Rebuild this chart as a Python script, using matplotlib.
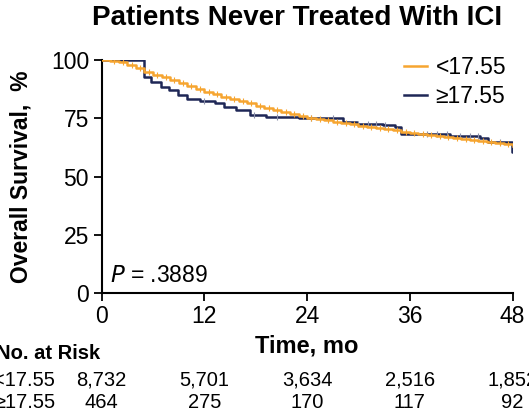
import numpy as np
import matplotlib.pyplot as plt
from matplotlib.transforms import blended_transform_factory

plt.rcParams['font.family'] = ['Liberation Sans', 'DejaVu Sans']

# <17.55 group (steps read roughly monthly)
low_t = [0, 1, 2, 3, 4, 5, 6, 7, 8, 9, 10, 11, 12, 13, 14, 15, 16, 17, 18, 19,
         20, 21, 22, 23, 24, 25, 26, 27, 28, 29, 30, 31, 32, 33, 34, 35, 36,
         37, 38, 39, 40, 41, 42, 43, 44, 45, 46, 47, 48]
low_s = [100, 99.8, 99.2, 98.0, 96.5, 95.0, 93.8, 92.6, 91.3, 90.0, 88.8, 87.6,
         86.5, 85.4, 84.3, 83.3, 82.3, 81.4, 80.4, 79.5, 78.6, 77.7, 76.9, 76.1,
         75.3, 74.7, 74.1, 73.5, 73.0, 72.4, 71.9, 71.3, 70.8, 70.3, 69.8, 69.3,
         68.8, 68.4, 68.0, 67.5, 67.1, 66.7, 66.2, 65.8, 65.3, 64.8, 64.3, 63.8,
         63.3]

# >=17.55 group
high_t = [0, 4.9, 5.8, 6.9, 7.9, 8.9, 10.0, 11.5, 13.3, 14.3, 15.7, 17.3, 19.2,
          23.1, 28.2, 29.8, 32.9, 34.3, 35.0, 40.7, 44.2, 45.1, 47.9, 48.0]
high_s = [100, 92.8, 90.7, 88.5, 87.1, 85.0, 83.3, 82.5, 81.4, 80.0, 78.5, 76.4,
          75.7, 75.0, 73.5, 72.8, 72.3, 71.1, 68.5, 67.3, 66.4, 64.9, 60.6, 60.6]
high_cens = [12.0, 17.8, 20.5, 24.5, 27.0, 30.0, 31.1, 32.1, 33.1, 38.0, 39.2,
             40.3, 41.8, 43.0, 44.0, 46.5]

xticks = [0, 12, 24, 36, 48]
risk_low = ['8,732', '5,701', '3,634', '2,516', '1,852']
risk_high = ['464', '275', '170', '117', '92']

orange = '#F6A530'
navy = '#1E2756'

fig = plt.figure(figsize=(5.29, 4.15), dpi=100)
ax = fig.add_axes([0.192, 0.294, 0.777, 0.561])

ax.step(high_t, high_s, where='post', color=navy, lw=1.8, label='\u226517.55', zorder=2)
ax.step(low_t, low_s, where='post', color=orange, lw=1.8, label='<17.55', zorder=3)

# censor marks
low_c = [t + 0.5 for t in low_t[1:-1]]
low_cs = [low_s[int(t)] for t in low_c]
ax.plot(low_c, low_cs, ls='none', marker='|', ms=4, mew=0.8, color=orange, zorder=3)
high_cs = [high_s[np.searchsorted(high_t, t, side='right') - 1] for t in high_cens]
ax.plot(high_cens, high_cs, ls='none', marker='|', ms=5, mew=0.8, color='#8a8fa8', zorder=2)

ax.set_xlim(0, 48)
ax.set_ylim(0, 100)
ax.set_xticks(xticks)
ax.set_yticks([0, 25, 50, 75, 100])
ax.spines['top'].set_visible(False)
ax.spines['right'].set_visible(False)
ax.spines['left'].set_linewidth(1.5)
ax.spines['bottom'].set_linewidth(1.5)
ax.tick_params(direction='out', length=6, width=1.3, labelsize=16.5, pad=3)

ax.set_xlabel('Time, mo', fontsize=17, fontweight='bold', labelpad=4)
ax.set_ylabel('Overall Survival,  %', fontsize=16.5, fontweight='bold', labelpad=13)
fig.text(0.561, 0.957, 'Patients Never Treated With ICI', fontsize=20,
         fontweight='bold', ha='center', va='center')

ax.text(0.02, 0.025, r'$P$ = .3889', transform=ax.transAxes, fontsize=16.5,
        ha='left', va='bottom')

handles, labels = ax.get_legend_handles_labels()
ax.legend(handles[::-1], labels[::-1], loc='upper right', bbox_to_anchor=(1.035, 1.105),
          frameon=False, fontsize=16.5, handlelength=1.0, handletextpad=0.4,
          labelspacing=0.25)

# at-risk table
tr = blended_transform_factory(ax.transData, fig.transFigure)
fig.text(0.189, 0.149, 'No. at Risk', fontsize=14.5, fontweight='bold',
         ha='right', va='center')
fig.text(0.104, 0.084, '<17.55', fontsize=14.5, ha='right', va='center')
fig.text(0.104, 0.029, '\u226517.55', fontsize=14.5, ha='right', va='center')
for x, a, b in zip(xticks, risk_low, risk_high):
    ax.text(x, 0.084, a, transform=tr, fontsize=14.5, ha='center', va='center')
    ax.text(x, 0.029, b, transform=tr, fontsize=14.5, ha='center', va='center')

fig.savefig('out.png', dpi=100)
